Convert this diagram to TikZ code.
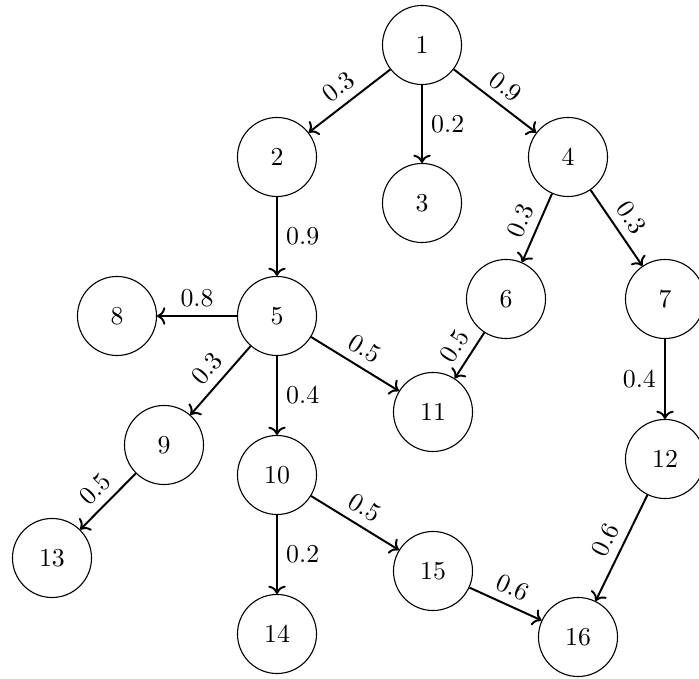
\documentclass[tikz,border=0pt]{standalone}
\usetikzlibrary{arrows.meta}
\begin{document}
\begin{tikzpicture}[x=0.0143cm, y=-0.0143cm,
  every node/.style={font=\fontsize{10.5}{13}\selectfont},
  vtx/.style={draw, circle, minimum size=1.13cm, inner sep=0pt, line width=0.45pt},
  edge/.style={->, thick},
  lab/.style={midway, above, sloped}]
\useasboundingbox (0,0) rectangle (699,679);
\node[vtx] (n1)  at (422,45)  {1};
\node[vtx] (n2)  at (277,157) {2};
\node[vtx] (n3)  at (422,203) {3};
\node[vtx] (n4)  at (568,157) {4};
\node[vtx] (n5)  at (277,316) {5};
\node[vtx] (n6)  at (506,299) {6};
\node[vtx] (n7)  at (665,299) {7};
\node[vtx] (n8)  at (117,316) {8};
\node[vtx] (n9)  at (164,445) {9};
\node[vtx] (n10) at (277,475) {10};
\node[vtx] (n11) at (433,412) {11};
\node[vtx] (n12) at (665,459) {12};
\node[vtx] (n13) at (52,558)  {13};
\node[vtx] (n14) at (277,634) {14};
\node[vtx] (n15) at (433,571) {15};
\node[vtx] (n16) at (578,637) {16};

\draw[edge] (n1) -- node[lab] {0.3} (n2);
\draw[edge] (n1) -- node[midway, right] {0.2} (n3);
\draw[edge] (n1) -- node[lab] {0.9} (n4);
\draw[edge] (n2) -- node[midway, right] {0.9} (n5);
\draw[edge] (n4) -- node[lab] {0.3} (n6);
\draw[edge] (n4) -- node[lab] {0.3} (n7);
\draw[edge] (n5) -- node[midway, above] {0.8} (n8);
\draw[edge] (n5) -- node[lab] {0.3} (n9);
\draw[edge] (n5) -- node[midway, right] {0.4} (n10);
\draw[edge] (n5) -- node[lab] {0.5} (n11);
\draw[edge] (n6) -- node[lab] {0.5} (n11);
\draw[edge] (n7) -- node[midway, left] {0.4} (n12);
\draw[edge] (n9) -- node[lab] {0.5} (n13);
\draw[edge] (n10) -- node[midway, right] {0.2} (n14);
\draw[edge] (n10) -- node[lab] {0.5} (n15);
\draw[edge] (n15) -- node[lab] {0.6} (n16);
\draw[edge] (n12) -- node[lab] {0.6} (n16);
\end{tikzpicture}
\end{document}
